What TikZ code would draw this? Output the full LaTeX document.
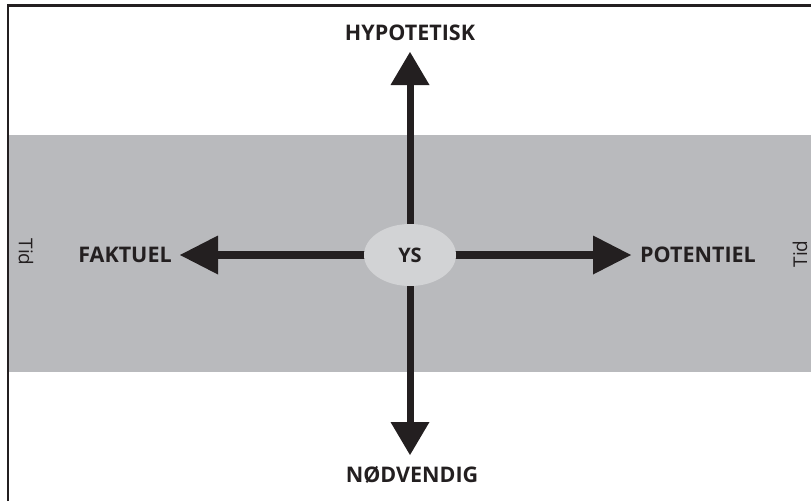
\documentclass[tikz,border=0pt]{standalone}
\usepackage{fontspec}
\setmainfont{Open Sans}
\usetikzlibrary{arrows.meta,shapes.geometric}
\definecolor{ink}{HTML}{231F20}
\definecolor{band}{HTML}{B9BABD}
\definecolor{ellfill}{HTML}{D2D3D5}
\tikzset{
  lbl/.style={font=\fontsize{21.5}{21.5}\selectfont\bfseries, text=ink, inner sep=0pt},
  tidlbl/.style={font=\fontsize{19}{19}\selectfont, text=ink, inner sep=0pt},
  axisV/.style={draw=ink, line width=7pt, -{Triangle[length=33pt,width=39pt,line width=0pt]}},
  axisH/.style={draw=ink, line width=7.5pt, -{Triangle[length=38pt,width=39pt,line width=0pt]}},
}
\begin{document}
\begin{tikzpicture}[x=1pt,y=-1pt]
\useasboundingbox (0,0) rectangle (811,501);
\fill[band] (9,135) rectangle (811,372);
\draw[ink, line width=2.5pt] (8,501) -- (8,5.5) -- (811,5.5);
\coordinate (c) at (410,255);
\coordinate (tipU) at (410,52);
\coordinate (tipD) at (410,455);
\coordinate (tipL) at (180,255);
\coordinate (tipR) at (631,255);
\draw[axisV] (c) -- (tipU);
\draw[axisV] (c) -- (tipD);
\draw[axisH] (c) -- (tipL);
\draw[axisH] (c) -- (tipR);
\node[ellipse, fill=ellfill, minimum width=92pt, minimum height=62pt, inner sep=0pt, font=\fontsize{20}{20}\selectfont\bfseries, text=ink] (ys) at (c) {YS};
\node[lbl] (hyp) at (410,33) {HYPOTETISK};
\node[lbl] (nod) at (412,475) {NØDVENDIG};
\node[lbl] (fak) at (125,255) {FAKTUEL};
\node[lbl] (pot) at (698,255) {POTENTIEL};
\node[tidlbl, rotate=-90] (tidL) at (26,252) {Tid};
\node[tidlbl, rotate=90] (tidR) at (800,254) {Tid};
\end{tikzpicture}
\end{document}
